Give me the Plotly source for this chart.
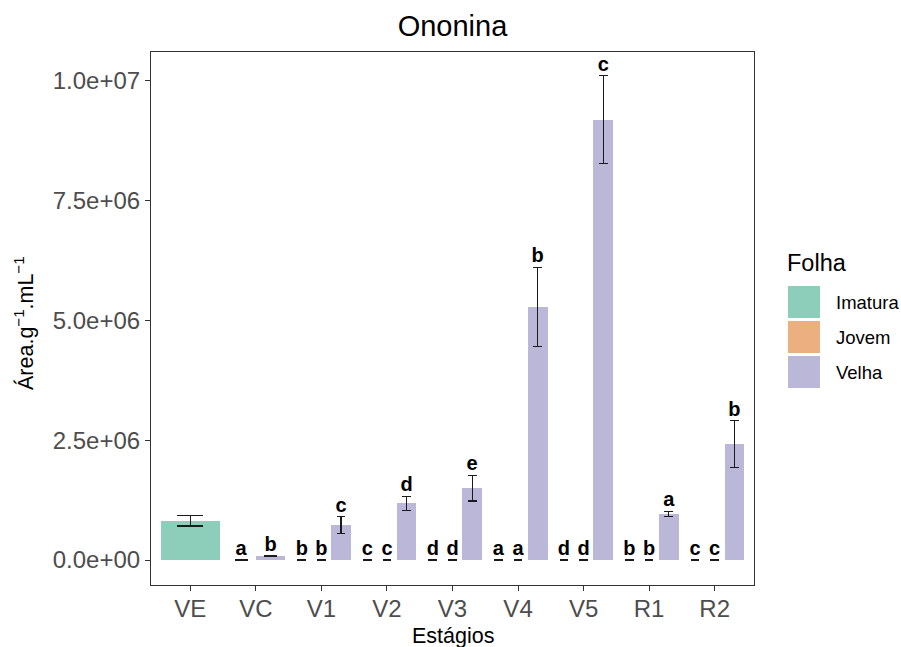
import plotly.graph_objects as go

# ---------------- data ----------------
categories = ["VE", "VC", "V1", "V2", "V3", "V4", "V5", "R1", "R2"]
groups = ["Imatura", "Jovem", "Velha"]
colors = {"Imatura": "#8DCEBB", "Jovem": "#ECAF80", "Velha": "#BAB7D9"}

imatura_mean = [820000, 0, 0, 0, 0, 0, 0, 0, 0]
imatura_sd = [110000, 0, 0, 0, 0, 0, 0, 0, 0]
imatura_letter = ["", "a", "b", "c", "d", "a", "d", "b", "c"]

jovem_mean = [None, None, 0, 0, 0, 0, 0, 0, 0]
jovem_sd = [None, None, 0, 0, 0, 0, 0, 0, 0]
jovem_letter = [None, None, "b", "c", "d", "a", "d", "b", "c"]

velha_mean = [None, 85000, 730000, 1180000, 1500000, 5280000, 9190000, 960000, 2420000]
velha_sd = [None, 6000, 170000, 150000, 270000, 830000, 920000, 55000, 490000]
velha_letter = [None, "b", "c", "d", "e", "b", "c", "a", "b"]

y_tickvals = [0, 2500000, 5000000, 7500000, 10000000]
y_ticktext = ["0.0e+00", "2.5e+06", "5.0e+06", "7.5e+06", "1.0e+07"]

series = {
    "Imatura": (imatura_mean, imatura_sd, imatura_letter),
    "Jovem": (jovem_mean, jovem_sd, jovem_letter),
    "Velha": (velha_mean, velha_sd, velha_letter),
}

# ---------------- layout constants ----------------
W, H = 901, 647
ML, MR, MT, MB = 151, 147, 52, 62
PW, PH = W - ML - MR, H - MT - MB
XR = [0.4, len(categories) + 0.6]
YR = [-522000, 10605000]
px_per_unit = PW / (XR[1] - XR[0])
DODGE = 0.9
EBW = 0.4
FONT = "Liberation Sans, Arial, sans-serif"

# dodge positions (like ggplot position_dodge)
pos = {g: [None] * len(categories) for g in groups}
wid = {g: [None] * len(categories) for g in groups}
ncount = [0] * len(categories)
for i in range(len(categories)):
    present = [g for g in groups if series[g][0][i] is not None]
    n = len(present)
    ncount[i] = n
    for k, g in enumerate(present):
        pos[g][i] = (i + 1) - DODGE / 2 + (k + 0.5) * DODGE / n
        wid[g][i] = DODGE / n

fig = go.Figure()

# bars with error bars; split by number of dodged bars (cap width depends on it)
for g in groups:
    m, s, lab = series[g]
    for n in sorted(set(ncount)):
        idx = [i for i in range(len(categories)) if m[i] is not None and ncount[i] == n]
        if not idx:
            continue
        fig.add_trace(go.Bar(
            x=[pos[g][i] for i in idx], y=[m[i] for i in idx],
            width=[wid[g][i] for i in idx],
            marker=dict(color=colors[g], line=dict(width=0)),
            error_y=dict(type="data", array=[s[i] for i in idx], visible=True,
                         color="#1a1a1a", thickness=1.2,
                         width=EBW / n * px_per_unit / 2),
            name=g, showlegend=False, hoverinfo="skip",
        ))

# letters
for g in groups:
    m, s, lab = series[g]
    idx = [i for i in range(len(categories)) if m[i] is not None and lab[i]]
    fig.add_trace(go.Scatter(
        x=[pos[g][i] for i in idx], y=[m[i] + s[i] for i in idx],
        text=[lab[i] for i in idx], mode="text", textposition="top center",
        textfont=dict(family=FONT, size=20, color="black", weight="bold"),
        showlegend=False, hoverinfo="skip",
    ))

# custom legend (ggplot-like large keys)
def px_x(p):
    return (p - ML) / PW

def px_y(p):
    return (H - MB - p) / PH

shapes = []
annotations = []
annotations.append(dict(text="Folha", x=px_x(785), y=px_y(263), xref="paper", yref="paper",
                        xanchor="left", yanchor="middle", showarrow=False,
                        font=dict(family=FONT, size=23.5, color="black")))
for k, g in enumerate(groups):
    top = 286 + 35 * k
    shapes.append(dict(type="rect", xref="paper", yref="paper",
                       x0=px_x(788), x1=px_x(820), y0=px_y(top + 32), y1=px_y(top),
                       fillcolor=colors[g], line=dict(width=0)))
    annotations.append(dict(text=g, x=px_x(834), y=px_y(top + 16), xref="paper", yref="paper",
                            xanchor="left", yanchor="middle", showarrow=False,
                            font=dict(family=FONT, size=18.5, color="black")))

# axis titles
annotations.append(dict(text="Estágios", x=0.5, y=px_y(636), xref="paper", yref="paper",
                        xanchor="center", yanchor="middle", showarrow=False,
                        font=dict(family=FONT, size=21.5, color="black")))
annotations.append(dict(text="Área.g<sup>−1</sup>.mL<sup>−1</sup>", x=px_x(24), y=px_y(323),
                        xref="paper", yref="paper", xanchor="center", yanchor="middle",
                        showarrow=False, textangle=-90,
                        font=dict(family=FONT, size=21.5, color="black")))

fig.update_layout(
    width=W, height=H,
    margin=dict(l=ML, r=MR, t=MT, b=MB, pad=0),
    paper_bgcolor="white", plot_bgcolor="white",
    barmode="overlay", bargap=0,
    showlegend=False,
    title=dict(text="Ononina", x=0.5, xref="paper", xanchor="center",
               y=1 - 26 / H, yref="container", yanchor="middle",
               font=dict(family=FONT, size=29, color="black")),
    shapes=shapes, annotations=annotations,
)
fig.update_xaxes(range=XR, tickvals=list(range(1, len(categories) + 1)), ticktext=categories,
                 showgrid=False, zeroline=False, showline=True, mirror=True,
                 linecolor="#333333", linewidth=1.2, ticks="outside", ticklen=5,
                 tickwidth=1.1, tickcolor="#333333", ticklabelstandoff=-3,
                 tickfont=dict(family=FONT, size=24, color="#4D4D4D"))
fig.update_yaxes(range=YR, tickvals=y_tickvals, ticktext=y_ticktext,
                 showgrid=False, zeroline=False, showline=True, mirror=True,
                 linecolor="#333333", linewidth=1.2, ticks="outside", ticklen=5,
                 tickwidth=1.1, tickcolor="#333333",
                 tickfont=dict(family=FONT, size=24, color="#4D4D4D"))

fig.write_html("out.html")
